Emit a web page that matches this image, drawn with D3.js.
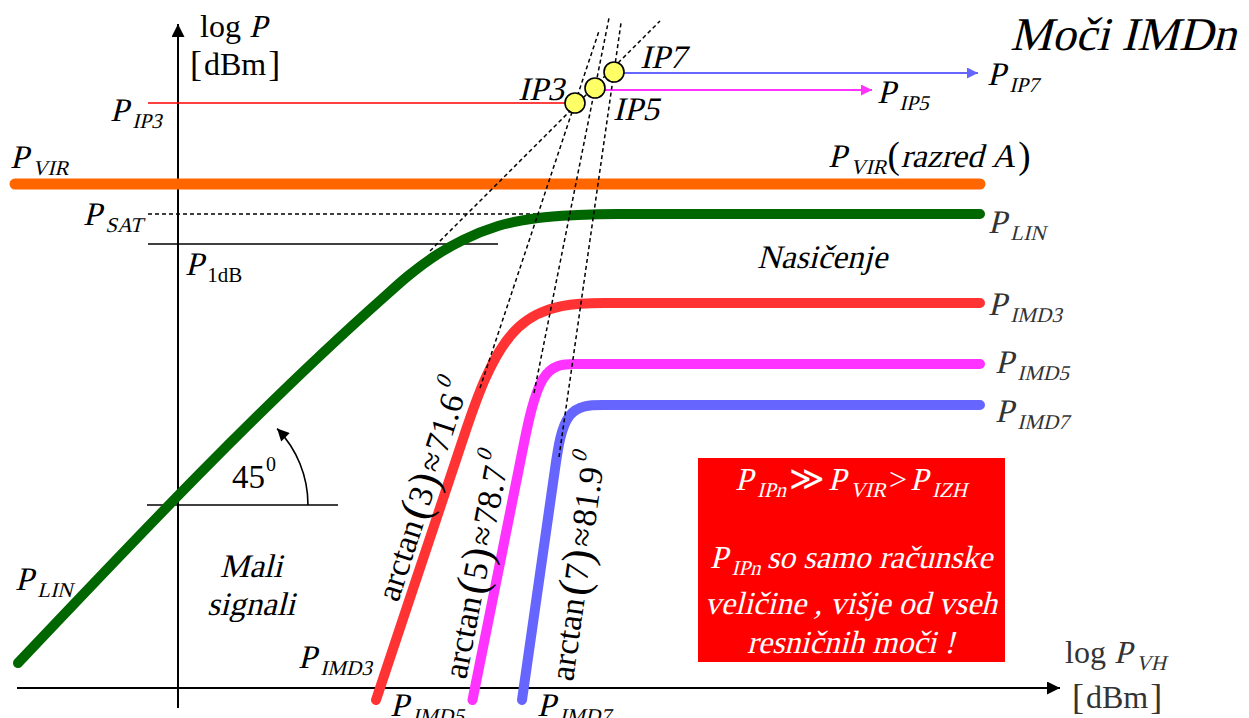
<!DOCTYPE html>
<html>
<head>
<meta charset="utf-8">
<script src="https://cdn.jsdelivr.net/npm/d3@7"></script>
<style>
html, body { margin: 0; padding: 0; background: #fff; }
svg text { font-family: "Liberation Serif", "Times New Roman", serif; }
</style>
</head>
<body>
<div id="chart"></div>
<script>
// output power vs input power, both in dBm
const linCurve  = [[-32,5],[41,78],[46,82.4],[52,86.8],[57,89.6],[64,92.4],[72,94],[80,94.6],[88,94.8],[160.4,94.8]];
// IMD curves as control polygons (straight part, corner, flat part)
const imd3Curve = [[39.6,-2.4],[53.23,38.5],[56.23,47.5],[66.07,77],[87.5,77],[95.5,77],[160.4,77]];
const imd5Curve = [[58.9,-2.4],[66.9,37.5],[68.7,46.5],[72.36,64.8],[79.6,64.8],[85.6,64.8],[160.4,64.8]];
const imd7Curve = [[68.8,-2.4],[74.07,34.5],[75.36,43.5],[77.23,56.6],[85.35,56.6],[91.35,56.6],[160.4,56.6]];

// intercept points IP3, IP5, IP7
const ipNames  = ['IP3', 'IP5', 'IP7'];
const ipX      = [79.4, 83.4, 87.2];
const ipY      = [117, 120, 123.2];
const ipSlopes = [3, 5, 7];
const ipFrom   = [60.4, 71.2, 76.2];   // where the dashed extrapolation leaves the curve
const ipTo     = [84.2, 86.2, 88.6];

// linear extrapolation (45 deg): Pout = Pin + linGain
const linGain = 37;
const linFrom = 50.4, linTo = 96.4;

const pVir = 100.8, pSat = 94.8, p1dB = 88.8;
const ip5ArrowEnd = 138.8, ip7ArrowEnd = 160;
const angleRef = 36.6;   // level of the 45 deg marker

const W = 1249, H = 718;
const x = d3.scaleLinear().domain([0, 100]).range([178, 678]);
const y = d3.scaleLinear().domain([0, 100]).range([688, 188]);

const svg = d3.select('#chart').append('svg')
    .attr('width', W).attr('height', H)
    .attr('viewBox', `0 0 ${W} ${H}`);

const defs = svg.append('defs');
function marker(id, color, w, h) {
    defs.append('marker')
        .attr('id', id)
        .attr('viewBox', '0 0 10 10')
        .attr('refX', 10).attr('refY', 5)
        .attr('markerUnits', 'userSpaceOnUse')
        .attr('markerWidth', w).attr('markerHeight', h)
        .attr('orient', 'auto')
        .append('path').attr('d', 'M0,0 L10,5 L0,10 z').attr('fill', color);
}
marker('arBlack', '#000', 20, 13);
marker('arMag', '#ff33ff', 16, 11);
marker('arBlue', '#6666ff', 16, 11);
marker('arSmall', '#000', 15, 12);

const line = d3.line().x(d => x(d[0])).y(d => y(d[1]));
const smooth = d3.line().x(d => x(d[0])).y(d => y(d[1])).curve(d3.curveMonotoneX);
const rounded = d3.line().x(d => x(d[0])).y(d => y(d[1])).curve(d3.curveBasis);

// axes
svg.append('line')
    .attr('x1', x(0)).attr('y1', y(-4)).attr('x2', x(0)).attr('y2', y(132.8))
    .attr('stroke', '#000').attr('stroke-width', 2).attr('marker-end', 'url(#arBlack)');
svg.append('line')
    .attr('x1', x(-32.2)).attr('y1', y(0)).attr('x2', x(176.4)).attr('y2', y(0))
    .attr('stroke', '#000').attr('stroke-width', 2).attr('marker-end', 'url(#arBlack)');

// reference levels
svg.append('path').attr('d', line([[-6, ipY[0]], [ipX[0], ipY[0]]]))
    .attr('stroke', '#ff0000').attr('stroke-width', 1.6).attr('fill', 'none');
svg.append('path').attr('d', line([[ipX[1], 119.6], [ip5ArrowEnd, 119.6]]))
    .attr('stroke', '#ff33ff').attr('stroke-width', 2).attr('fill', 'none')
    .attr('marker-end', 'url(#arMag)');
svg.append('path').attr('d', line([[ipX[2], 123], [ip7ArrowEnd, 123]]))
    .attr('stroke', '#6666ff').attr('stroke-width', 2).attr('fill', 'none')
    .attr('marker-end', 'url(#arBlue)');
svg.append('path').attr('d', line([[-6, pSat], [76, pSat]]))
    .attr('stroke', '#000').attr('stroke-width', 1.4).attr('stroke-dasharray', '4,3').attr('fill', 'none');
svg.append('path').attr('d', line([[-6, p1dB], [64, p1dB]]))
    .attr('stroke', '#000').attr('stroke-width', 1.4).attr('fill', 'none');
svg.append('path').attr('d', line([[-6.2, angleRef], [32, angleRef]]))
    .attr('stroke', '#000').attr('stroke-width', 1.6).attr('fill', 'none');

// 45 deg arc
const arcR = x(22) - x(0);
const arc = d3.path();
arc.arc(x(4), y(angleRef), arcR, 0, -44 * Math.PI / 180, true);
svg.append('path').attr('d', arc.toString())
    .attr('stroke', '#000').attr('stroke-width', 1.6).attr('fill', 'none')
    .attr('marker-end', 'url(#arSmall)');

// thick curves
svg.append('path').attr('d', line([[-32.6, pVir], [160.4, pVir]]))
    .attr('stroke', '#ff6600').attr('stroke-width', 11).attr('stroke-linecap', 'round').attr('fill', 'none');
[[smooth(linCurve), '#006600'], [rounded(imd3Curve), '#ff3333'],
 [rounded(imd5Curve), '#ff33ff'], [rounded(imd7Curve), '#6666ff']]
    .forEach(([d, col]) => {
        svg.append('path').attr('d', d)
            .attr('stroke', col).attr('stroke-width', 10)
            .attr('stroke-linecap', 'round').attr('stroke-linejoin', 'round').attr('fill', 'none');
    });

// dashed extrapolations
const dash = svg.append('g').attr('stroke', '#000').attr('stroke-width', 1.5)
    .attr('stroke-dasharray', '4,3').attr('fill', 'none');
dash.append('path').attr('d', line([[linFrom, linFrom + linGain], [linTo, linTo + linGain]]));
ipNames.forEach((n, i) => {
    const f = X => ipY[i] + ipSlopes[i] * (X - ipX[i]);
    dash.append('path').attr('d', line([[ipFrom[i], f(ipFrom[i])], [ipTo[i], f(ipTo[i])]]));
});

// intercept circles
svg.selectAll('circle.ip')
    .data(ipNames)
    .enter()
    .append('circle')
    .attr('class', 'ip')
    .attr('cx', (d, i) => x(ipX[i]))
    .attr('cy', (d, i) => y(ipY[i]))
    .attr('r', 10)
    .attr('fill', '#ffff66')
    .attr('stroke', '#000')
    .attr('stroke-width', 1.6);

// text helper: parts are {t, it, size, off, dx}
// no serif italic is installed, so italic pieces are slanted regular serif
function rich(parent, px, py, parts, o = {}) {
    const base = o.size || 33;
    const g = parent.append('g').attr('fill', o.color || '#000');
    let cx = 0;
    parts.forEach(p => {
        cx += p.dx || 0;
        const t = g.append('text')
            .attr('font-size', p.size || base)
            .text(p.t);
        const w = t.node().getComputedTextLength();
        t.attr('transform', `translate(${cx},${p.off || 0})` + (p.it ? ' skewX(-14)' : ''));
        cx += w;
    });
    const shift = o.anchor === 'middle' ? -cx / 2 : 0;
    g.attr('transform', `translate(${px + shift},${py})`);
    return g;
}
const P = (sub, o = {}) => [
    { t: 'P', it: true, dx: o.pre || 0 },
    { t: sub, it: !o.up, size: o.size || 21, off: o.off || 7, dx: o.dx == null ? 4 : o.dx }
];

// axis labels
rich(svg, 200, 37, [{ t: 'log' }, { t: 'P', it: true, dx: 8 }], { size: 32 });
rich(svg, 190, 75, [{ t: '[', size: 36, off: 1 }, { t: 'dBm', dx: 2 }, { t: ']', size: 36, off: 1, dx: 2 }], { size: 32 });
rich(svg, 1065, 663, [{ t: 'log' }, ...P('VH', { pre: 8 })], { size: 32, color: '#333' });
rich(svg, 1072, 708, [{ t: '[', size: 36, off: 1 }, { t: 'dBm', dx: 2 }, { t: ']', size: 36, off: 1, dx: 2 }], { size: 32, color: '#333' });

rich(svg, 1010, 50, [{ t: 'Moči', it: true }, { t: 'IMDn', it: true, dx: 12 }], { size: 47 });

// level labels
rich(svg, 110, 121, P('IP3'));
rich(svg, 10, 168, P('VIR'));
rich(svg, 83, 225, P('SAT'));
rich(svg, 185, 275, P('1dB', { up: true }));
rich(svg, 828, 167, [...P('VIR'), { t: '(', size: 37, dx: 1, off: 1 }, { t: 'razred', it: true, dx: 1 },
    { t: 'A', it: true, dx: 8 }, { t: ')', size: 37, dx: 3, off: 1 }]);
rich(svg, 987, 85, P('IP7'));
rich(svg, 877, 103, P('IP5'));
rich(svg, 518, 100, [{ t: 'IP3', it: true }]);
rich(svg, 613, 120, [{ t: 'IP5', it: true }]);
rich(svg, 640, 68, [{ t: 'IP7', it: true }]);

rich(svg, 988, 233, P('LIN'), { color: '#333' });
rich(svg, 988, 315, P('IMD3'), { color: '#333' });
rich(svg, 995, 373, P('IMD5'), { color: '#333' });
rich(svg, 995, 422, P('IMD7'), { color: '#333' });
rich(svg, 757, 268, [{ t: 'Nasičenje', it: true }]);

rich(svg, 15, 590, P('LIN'));
rich(svg, 251, 577, [{ t: 'Mali', it: true }], { anchor: 'middle' });
rich(svg, 251, 615, [{ t: 'signali', it: true }], { anchor: 'middle' });
rich(svg, 298, 668, P('IMD3'));
rich(svg, 390, 716, P('IMD5'));
rich(svg, 537, 716, P('IMD7'));

rich(svg, 232, 488, [{ t: '45' }, { t: '0', size: 20, off: -17, dx: 1 }], { size: 33 });

// slope labels along the IMD curves
const slopeLabels = [['3', '71.6', 398, 603, 72], ['5', '78.7', 466, 680, 79], ['7', '81.9', 573, 682, 82]];
slopeLabels.forEach(([n, deg, px, py, ang]) => {
    const g = svg.append('g').attr('transform', `translate(${px},${py}) rotate(${-ang})`);
    rich(g, 0, 0, [
        { t: 'arctan' },
        { t: '(', size: 44, dx: 3, off: 2 },
        { t: n },
        { t: ')', size: 44, off: 2 },
        { t: '≈', dx: 3 },
        { t: deg, dx: 2 },
        { t: '0', it: true, size: 22, off: -18, dx: 3 }
    ], { size: 34 });
});

// note box
svg.append('rect').attr('x', 698).attr('y', 458).attr('width', 307).attr('height', 204).attr('fill', '#ff0000');
const white = { size: 32, color: '#fff', anchor: 'middle' };
rich(svg, 851, 490, [...P('IPn'), { t: '≫', dx: 3, size: 34 }, ...P('VIR', { pre: 3 }),
    { t: '>', dx: 3 }, ...P('IZH', { pre: 3 })], white);
rich(svg, 851, 568, [...P('IPn'), { t: 'so', it: true, dx: 6 }, { t: 'samo', it: true, dx: 8 },
    { t: 'računske', it: true, dx: 8 }], white);
rich(svg, 851, 614, [{ t: 'veličine , višje od vseh', it: true }], white);
rich(svg, 851, 653, [{ t: 'resničnih moči !', it: true }], white);
</script>
</body>
</html>
